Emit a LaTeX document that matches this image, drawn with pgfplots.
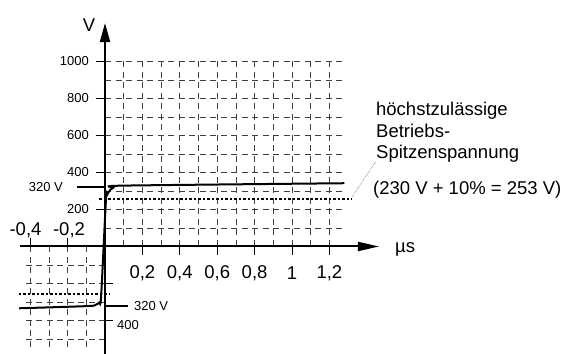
\documentclass[border=0pt]{standalone}
\usepackage{pgfplots}
\pgfplotsset{compat=1.18}
\usepackage{fontspec}
\setmainfont{Liberation Sans}
\usetikzlibrary{arrows.meta}
\newcommand{\fs}{\fontsize{13bp}{15bp}\selectfont}
\newcommand{\fb}{\fontsize{18.5bp}{21.5bp}\selectfont}
\begin{document}
\begin{tikzpicture}
\begin{axis}[
  anchor=south west, at={(0,0)},
  scale only axis, width=567bp, height=354bp,
  xmin=-0.56150, xmax=2.47059, ymin=-581.08, ymax=1332.43,
  hide axis, clip=false,
]
\path[use as bounding box] (axis cs:-0.56150,-581.08) rectangle (axis cs:2.47059,1332.43);
% grid upper right
\pgfplotsinvokeforeach{100,200,300,400,500,600,700,800,900,1000}{
  \draw[black!75, line width=0.7bp, dash pattern=on 6bp off 4.5bp] (axis cs:0,#1) -- (axis cs:1.27,#1);
}
\pgfplotsinvokeforeach{0.1,0.2,0.3,0.4,0.5,0.6,0.7,0.8,0.9,1.0,1.1,1.2}{
  \draw[black!75, line width=0.7bp, dash pattern=on 6bp off 4.5bp] (axis cs:#1,1000) -- (axis cs:#1,0);
}
% grid lower left
\pgfplotsinvokeforeach{-100,-200,-300,-400,-500}{
  \draw[black!75, line width=0.7bp, dash pattern=on 6bp off 4.5bp] (axis cs:0,#1) -- (axis cs:-0.44,#1);
}
\pgfplotsinvokeforeach{-0.1,-0.2,-0.3,-0.4}{
  \draw[black!75, line width=0.7bp, dash pattern=on 6bp off 4.5bp] (axis cs:#1,0) -- (axis cs:#1,-550);
}
% ticks
\pgfplotsinvokeforeach{0.2,0.4,0.6,0.8,1.0,1.2}{
  \draw[black, line width=0.8bp] (axis cs:#1,0) -- (axis cs:#1,-48);
}
\pgfplotsinvokeforeach{-0.2,-0.4}{
  \draw[black, line width=0.8bp] (axis cs:#1,0) -- (axis cs:#1,48);
}
\pgfplotsinvokeforeach{200,400,600,800,1000}{
  \draw[black, line width=0.8bp] (axis cs:-0.048,#1) -- (axis cs:0,#1);
}
\pgfplotsinvokeforeach{-200,-400}{
  \draw[black, line width=0.8bp] (axis cs:0,#1) -- (axis cs:0.043,#1);
}
% axes
\draw[line width=2bp, -{Triangle[length=19bp,width=10bp]}] (axis cs:0,-581) -- (axis cs:0,1208);
\draw[line width=2bp, -{Triangle[length=21bp,width=9bp]}] (axis cs:-0.455,0) -- (axis cs:1.465,0);
% dotted 253 V lines
\addplot[black, line width=2.5bp, dash pattern=on 2.5bp off 2bp, forget plot] coordinates {(-0.03,258) (1.32,258)};
\addplot[black, line width=2.5bp, dash pattern=on 2.5bp off 2bp, forget plot] coordinates {(-0.46,-257) (0.027,-257)};
% 320 V lines
\addplot[black, line width=2bp, forget plot] coordinates {(-0.15,320) (0,320)};
\addplot[black, line width=2bp, forget plot] coordinates {(0,-320) (0.123,-320)};
% curve
\addplot[black, line width=2bp, smooth, tension=0.4, forget plot] coordinates {
 (-0.46,-334) (-0.09,-322) (-0.05,-315) (-0.03,-303) (-0.021,-275) (0.005,251) (0.012,280) (0.025,302) (0.045,318) (0.094,329) (1.28,342)};
% leader
\draw[black!60, line width=0.6bp, densely dotted] (axis cs:1.321,268) -- (axis cs:1.449,462);
% labels
\node[font=\fb] at (axis cs:-0.0856,1197) {V};
\pgfplotsinvokeforeach{200,400,600,800,1000}{
  \node[font=\fs, anchor=east, inner sep=0pt] at (axis cs:-0.0856,#1) {#1};
}
\node[font=\fs, anchor=east, inner sep=0pt] at (axis cs:-0.2246,322) {320 V};
\node[font=\fs, anchor=west, inner sep=0pt] at (axis cs:0.155,-320) {320 V};
\node[font=\fs, anchor=west, inner sep=0pt] at (axis cs:0.064,-424) {400};
\node[font=\fb] at (axis cs:-0.425,89) {-0,4};
\node[font=\fb] at (axis cs:-0.1925,89) {-0,2};
\node[font=\fb] at (axis cs:0.2,-143) {0,2};
\node[font=\fb] at (axis cs:0.4,-143) {0,4};
\node[font=\fb] at (axis cs:0.6,-143) {0,6};
\node[font=\fb] at (axis cs:0.8,-143) {0,8};
\node[font=\fb] at (axis cs:1.0,-143) {1};
\node[font=\fb] at (axis cs:1.2,-143) {1,2};
\node[font=\fb, anchor=base west, inner sep=0pt] at (axis cs:1.551,-35) {µs};
\node[font=\fb, anchor=base west, inner sep=0pt] at (axis cs:1.449,705.4) {höchstzulässige};
\node[font=\fb, anchor=base west, inner sep=0pt] at (axis cs:1.449,589.2) {Betriebs-};
\node[font=\fb, anchor=base west, inner sep=0pt] at (axis cs:1.449,473) {Spitzenspannung};
\node[font=\fb, anchor=base west, inner sep=0pt] at (axis cs:1.433,278.4) {(230 V + 10\% = 253 V)};
\end{axis}
\end{tikzpicture}
\end{document}
